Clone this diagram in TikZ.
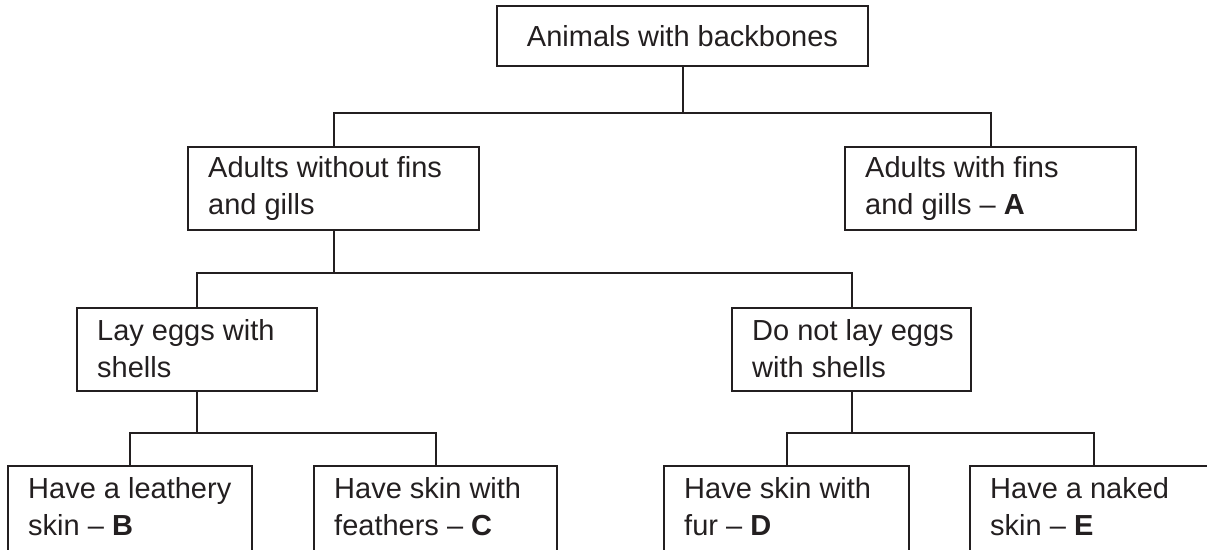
\documentclass[tikz,border=0pt]{standalone}
\usepackage{fontspec}
\setmainfont{Liberation Sans}
\definecolor{ink}{HTML}{231F20}
\begin{document}
\begin{tikzpicture}[x=1pt,y=-1pt,
  box/.style={draw=ink, line width=2pt, inner sep=0pt, minimum height=83pt},
  txt/.style={text=ink, inner sep=0pt, align=left, anchor=west, font=\fontsize{29}{37}\selectfont},
  conn/.style={draw=ink, line width=2pt}]
\useasboundingbox (0,0) rectangle (1207,549);
\clip (0,0) rectangle (1207,549);
% top
\node[box, minimum width=371pt, minimum height=60pt, text=ink, font=\fontsize{29}{37}\selectfont] (top) at (682.5,36) {Animals with backbones};
% level 2
\node[box, minimum width=291pt] (nwo) at (333.5,188.5) {};
\node[txt] (tnwo) at ([xshift=21pt]nwo.west) {Adults without fins\\and gills};
\node[box, minimum width=291pt] (nwi) at (990.5,188.5) {};
\node[txt] (tnwi) at ([xshift=21pt]nwi.west) {Adults with fins\\and gills -- \textbf{A}};
% level 3
\node[box, minimum width=240pt] (lay) at (197,349) {};
\node[txt] (tlay) at ([xshift=21pt]lay.west) {Lay eggs with\\shells};
\node[box, minimum width=239pt] (dnl) at (851.5,349) {};
\node[txt] (tdnl) at ([xshift=21pt]dnl.west) {Do not lay eggs\\with shells};
% level 4 (cut off at the bottom)
\node[box, minimum width=244pt, minimum height=90pt] (nB) at (130,511) {};
\node[txt] (tB) at ([xshift=21pt,yshift=-41.5pt]nB.north west) {Have a leathery\\skin -- \textbf{B}};
\node[box, minimum width=243pt, minimum height=90pt] (nC) at (435.5,511) {};
\node[txt] (tC) at ([xshift=21pt,yshift=-41.5pt]nC.north west) {Have skin with\\feathers -- \textbf{C}};
\node[box, minimum width=245pt, minimum height=90pt] (nD) at (786.5,511) {};
\node[txt] (tD) at ([xshift=21pt,yshift=-41.5pt]nD.north west) {Have skin with\\fur -- \textbf{D}};
\node[box, minimum width=248pt, minimum height=90pt] (nE) at (1094,511) {};
\node[txt] (tE) at ([xshift=21pt,yshift=-41.5pt]nE.north west) {Have a naked\\skin -- \textbf{E}};
% connectors
\coordinate (j1) at (682.5,113);
\draw[conn] (top.south) -- (j1);
\draw[conn] (nwo.north) |- (j1) -| (nwi.north);
\coordinate (j2) at (333.5,273);
\draw[conn] (nwo.south) -- (j2);
\draw[conn] (lay.north) |- (j2) -| (dnl.north);
\coordinate (j3) at (197,433);
\draw[conn] (lay.south) -- (j3);
\draw[conn] (nB.north) |- (j3) -| (nC.north);
\coordinate (j4) at (851.5,433);
\draw[conn] (dnl.south) -- (j4);
\draw[conn] (nD.north) |- (j4) -| (nE.north);
\end{tikzpicture}
\end{document}
